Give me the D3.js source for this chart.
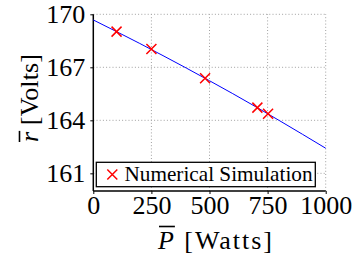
<!DOCTYPE html>
<html><head><meta charset="utf-8">
<script src="https://cdn.jsdelivr.net/npm/d3@7"></script>
<style>
html,body{margin:0;padding:0;background:#fff;}
svg{display:block;}
</style></head>
<body><svg id="c" width="357" height="260"></svg>
<script>
// Data
const simP = [100, 250, 481, 706, 752];
const simR = [169.02, 168.04, 166.38, 164.72, 164.37];
const fitP = [0, 100, 200, 300, 400, 500, 600, 700, 800, 900, 1000];
const fitR = [169.68, 169.02, 168.35, 167.66, 166.96, 166.24, 165.51, 164.76, 163.99, 163.21, 162.42];
const xTicks = [0, 250, 500, 750, 1000];
const yTicks = [161, 164, 167, 170];
const legendLabel = "Numerical Simulation";

const FONT = "font-family:'Liberation Serif','DejaVu Serif','Noto Serif','Times New Roman',serif";
const W = 357, H = 260;
const m = {l: 93.3, r: 31.3, t: 14.3, b: 69};
const svg = d3.select("#c");
const x = d3.scaleLinear().domain([0, 1000]).range([m.l, W - m.r]);
const y = d3.scaleLinear().domain([160, 170]).range([H - m.b, m.t]);

// grid
const grid = svg.append("g").attr("stroke", "#a0a0a0").attr("stroke-width", 1)
  .attr("stroke-dasharray", "1,2.2");
grid.selectAll("line.v").data(xTicks.filter(d => d > 0)).join("line")
  .attr("x1", d => x(d)).attr("x2", d => x(d)).attr("y1", y(160)).attr("y2", y(170));
grid.selectAll("line.h").data(yTicks).join("line")
  .attr("y1", d => y(d)).attr("y2", d => y(d)).attr("x1", x(0)).attr("x2", x(1000));

// axes
const xAxis = svg.append("g").attr("transform", `translate(0,${y(160)})`)
  .call(d3.axisBottom(x).tickValues(xTicks).tickSize(3).tickPadding(4).tickFormat(d3.format("d")));
const yAxis = svg.append("g").attr("transform", `translate(${x(0)},0)`)
  .call(d3.axisLeft(y).tickValues(yTicks).tickSize(3).tickPadding(5).tickFormat(d3.format("d")));
[xAxis, yAxis].forEach(a => {
  a.attr("font-family", null);
  a.select(".domain").attr("stroke", "#000").attr("stroke-width", 1.5);
  a.selectAll(".tick line").attr("stroke", "#000").attr("stroke-width", 1);
  a.selectAll(".tick text").attr("style", FONT + ";font-size:26px").attr("fill", "#000");
});
xAxis.select(".domain").attr("d", `M${x(0)},0H${x(1000)}`);
yAxis.select(".domain").attr("d", `M0,${y(160)}V${y(170)}`);
xAxis.selectAll(".tick text").attr("dy", "0.62em");

// fit line
const line = d3.line().x((d, i) => x(fitP[i])).y(d => y(d));
svg.append("path").datum(fitR).attr("d", line).attr("fill", "none")
  .attr("stroke", "#0000ff").attr("stroke-width", 1);

// markers
const s = 5;
const cross = (cx, cy) => `M${cx - s},${cy - s}L${cx + s},${cy + s}M${cx - s},${cy + s}L${cx + s},${cy - s}`;
svg.append("g").selectAll("path").data(simP).join("path")
  .attr("d", (d, i) => cross(x(d), y(simR[i])))
  .attr("stroke", "#ff0000").attr("stroke-width", 1.5).attr("fill", "none");

// legend
const lg = svg.append("g");
lg.append("rect").attr("x", 96.3).attr("y", 162.3).attr("width", 219).attr("height", 24.4)
  .attr("fill", "#fff").attr("stroke", "#000").attr("stroke-width", 1.3);
lg.append("path").attr("d", cross(112.3, 174.5)).attr("stroke", "#ff0000")
  .attr("stroke-width", 1.5).attr("fill", "none");
lg.append("text").attr("x", 124.5).attr("y", 181).attr("style", FONT + ";font-size:21px")
  .attr("textLength", 188).attr("lengthAdjust", "spacingAndGlyphs").text(legendLabel);

// x label
const xl = svg.append("text").attr("x", 158).attr("y", 249).attr("style", FONT + ";font-size:26px")
  .attr("textLength", 114).attr("lengthAdjust", "spacing");
xl.append("tspan").attr("font-style", "italic").text("P");
xl.append("tspan").text(" [Watts]");
{
  const n = xl.node();
  const a = n.getStartPositionOfChar(0).x, b = n.getEndPositionOfChar(0).x;
  svg.append("line").attr("x1", a + 1).attr("x2", b + 1).attr("y1", 226.5).attr("y2", 226.5)
    .attr("stroke", "#000").attr("stroke-width", 1.6);
}

// y label
const yg = svg.append("g").attr("transform", "translate(38,142) rotate(-90)");
const yl = yg.append("text").attr("x", 0).attr("y", 0).attr("style", FONT + ";font-size:26px")
  .attr("textLength", 88).attr("lengthAdjust", "spacing");
yl.append("tspan").attr("font-style", "italic").text("r");
yl.append("tspan").text(" [Volts]");
{
  const n = yl.node();
  const a = n.getStartPositionOfChar(0).x, b = n.getEndPositionOfChar(0).x;
  yg.append("line").attr("x1", a).attr("x2", b + 1).attr("y1", -18.5).attr("y2", -18.5)
    .attr("stroke", "#000").attr("stroke-width", 1.6);
}
</script></body></html>
